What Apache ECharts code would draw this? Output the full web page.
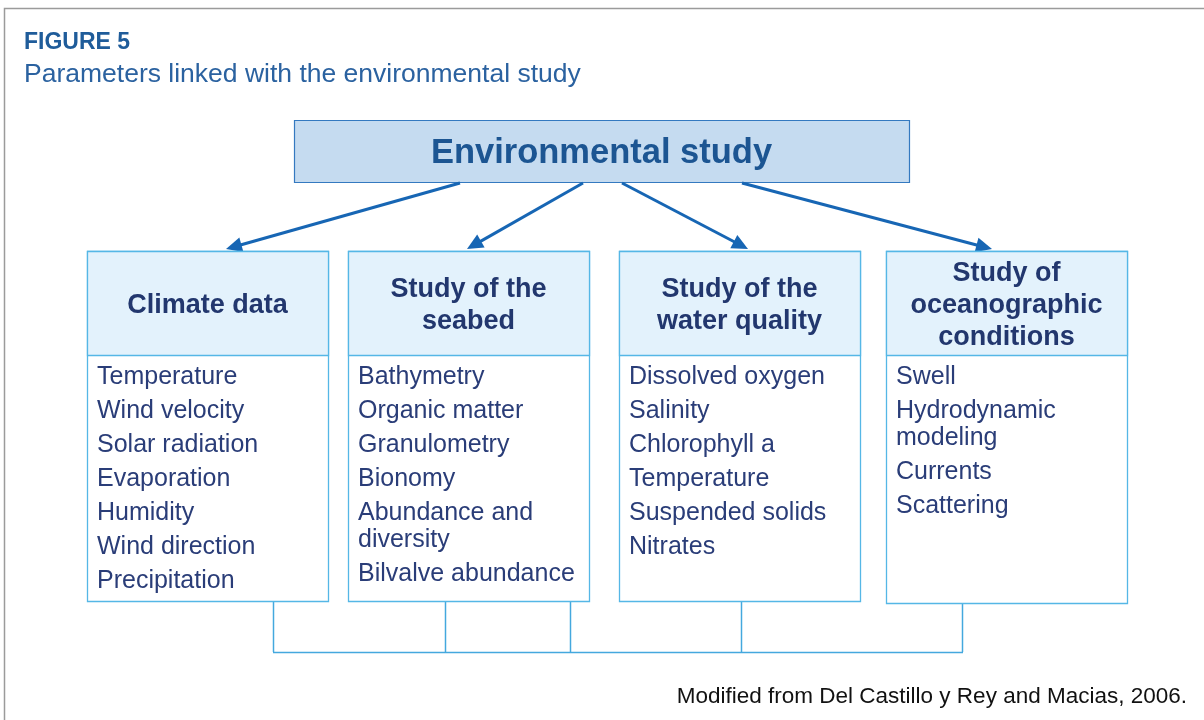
<!DOCTYPE html>
<html>
<head>
<meta charset="utf-8">
<script src="https://cdn.jsdelivr.net/npm/echarts@6/dist/echarts.min.js"></script>
<style>
html,body{margin:0;padding:0;background:#fff;}
#chart{width:1204px;height:720px;}
</style>
</head>
<body>
<div id="chart"></div>
<script>
// ---- Content (data) ----
const figureLabel = 'FIGURE 5';
const subtitle = 'Parameters linked with the environmental study';
const rootLabel = 'Environmental study';
const categories = ['Climate data', 'Study of the\nseabed', 'Study of the\nwater quality', 'Study of\noceanographic\nconditions'];
const climateItems = ['Temperature', 'Wind velocity', 'Solar radiation', 'Evaporation', 'Humidity', 'Wind direction', 'Precipitation'];
const seabedItems = ['Bathymetry', 'Organic matter', 'Granulometry', 'Bionomy', 'Abundance and\ndiversity', 'Bilvalve abundance'];
const waterItems = ['Dissolved oxygen', 'Salinity', 'Chlorophyll a', 'Temperature', 'Suspended solids', 'Nitrates'];
const oceanItems = ['Swell', 'Hydrodynamic\nmodeling', 'Currents', 'Scattering'];
const sourceNote = 'Modified from Del Castillo y Rey and Macias, 2006.';

// ---- Layout (positions / styles) ----
const FONT = '"Liberation Sans", Arial, sans-serif';
const itemLists = [climateItems, seabedItems, waterItems, oceanItems];
const boxLeft = [87, 348, 619, 886];
const boxBottom = [601, 601, 601, 603];
const boxW = 241, boxTop = 251, headBottom = 355;
const root = {x: 294, y: 120, w: 615, h: 62};
const arrowStartX = [460, 583, 622, 742];
const arrowEndX = [226, 467, 748, 992];
const arrowY0 = 183, arrowY1 = 249;
const connX = [273, 445, 570, 741, 962];
const connY = 652;

const C = {
  title: '#1f5c9a', sub: '#2b62a0', rootFill: '#c5dbf0', rootStroke: '#3479c0', rootText: '#1c5592',
  arrow: '#1766b4', headFill: '#e3f2fc', boxStroke: '#55b7e6', headText: '#22376e', itemText: '#2a3d78',
  conn: '#44a8de', frame: '#9b9b9b', source: '#111111'
};

const els = [];
// outer frame (right/bottom edges run off the page)
els.push({type: 'rect', shape: {x: 4.5, y: 8.5, width: 1400, height: 900}, style: {fill: 'none', stroke: C.frame, lineWidth: 1.5}, silent: true});
els.push({type: 'text', style: {text: figureLabel, x: 24, y: 43, fill: C.title, font: 'bold 23px ' + FONT, align: 'left', verticalAlign: 'middle'}});
els.push({type: 'text', style: {text: subtitle, x: 24, y: 75, fill: C.sub, font: '26.5px ' + FONT, align: 'left', verticalAlign: 'middle'}});

// root box
els.push({type: 'rect', shape: {x: root.x + 0.5, y: root.y + 0.5, width: root.w, height: root.h}, style: {fill: C.rootFill, stroke: C.rootStroke, lineWidth: 1.2}});
els.push({type: 'text', style: {text: rootLabel, x: root.x + root.w / 2, y: root.y + root.h / 2 + 2, fill: C.rootText, font: 'bold 34.5px ' + FONT, align: 'center', verticalAlign: 'middle'}});

// arrows
const AL = 16, AW = 15;
arrowStartX.forEach((sx, i) => {
  const ex = arrowEndX[i];
  const dx = ex - sx, dy = arrowY1 - arrowY0;
  const len = Math.hypot(dx, dy);
  const ux = dx / len, uy = dy / len;
  const px = -uy, py = ux;
  const bx = ex - ux * AL, by = arrowY1 - uy * AL;
  els.push({type: 'line', shape: {x1: sx, y1: arrowY0, x2: bx + ux * 2, y2: by + uy * 2}, style: {stroke: C.arrow, lineWidth: 3}});
  els.push({type: 'polygon', shape: {points: [[ex, arrowY1], [bx + px * AW / 2, by + py * AW / 2], [bx - px * AW / 2, by - py * AW / 2]]}, style: {fill: C.arrow}});
});

// connector lines at bottom
connX.forEach((x, i) => {
  const bi = boxLeft.findIndex(l => x >= l && x <= l + boxW);
  const y0 = boxBottom[bi >= 0 ? bi : 0];
  els.push({type: 'line', shape: {x1: x + 0.5, y1: y0, x2: x + 0.5, y2: connY}, style: {stroke: C.conn, lineWidth: 1.5}});
});
els.push({type: 'line', shape: {x1: connX[0], y1: connY + 0.5, x2: connX[connX.length - 1] + 1, y2: connY + 0.5}, style: {stroke: C.conn, lineWidth: 1.5}});

// category boxes
categories.forEach((cat, i) => {
  const x = boxLeft[i];
  els.push({type: 'rect', shape: {x: x + 0.5, y: boxTop + 0.5, width: boxW, height: boxBottom[i] - boxTop}, style: {fill: '#ffffff', stroke: C.boxStroke, lineWidth: 1.3}});
  els.push({type: 'rect', shape: {x: x + 0.5, y: boxTop + 0.5, width: boxW, height: headBottom - boxTop}, style: {fill: C.headFill, stroke: C.boxStroke, lineWidth: 1.3}});
  els.push({type: 'text', style: {text: cat, x: x + boxW / 2, y: (boxTop + headBottom) / 2 + 3, fill: C.headText, font: 'bold 27px ' + FONT, lineHeight: 32, align: 'center', verticalAlign: 'middle'}});
  let y = 377;
  itemLists[i].forEach(item => {
    const lines = item.split('\n');
    lines.forEach((ln, k) => {
      els.push({type: 'text', style: {text: ln, x: x + 10, y: y + k * 27, fill: C.itemText, font: '25px ' + FONT, align: 'left', verticalAlign: 'middle'}});
    });
    y += 34 + (lines.length - 1) * 27;
  });
});

els.push({type: 'text', style: {text: sourceNote, x: 1187, y: 697, fill: C.source, font: '22.5px ' + FONT, align: 'right', verticalAlign: 'middle'}});

const chart = echarts.init(document.getElementById('chart'), null, {renderer: 'canvas'});
chart.setOption({backgroundColor: '#ffffff', animation: false, graphic: {elements: els}});
</script>
</body>
</html>
